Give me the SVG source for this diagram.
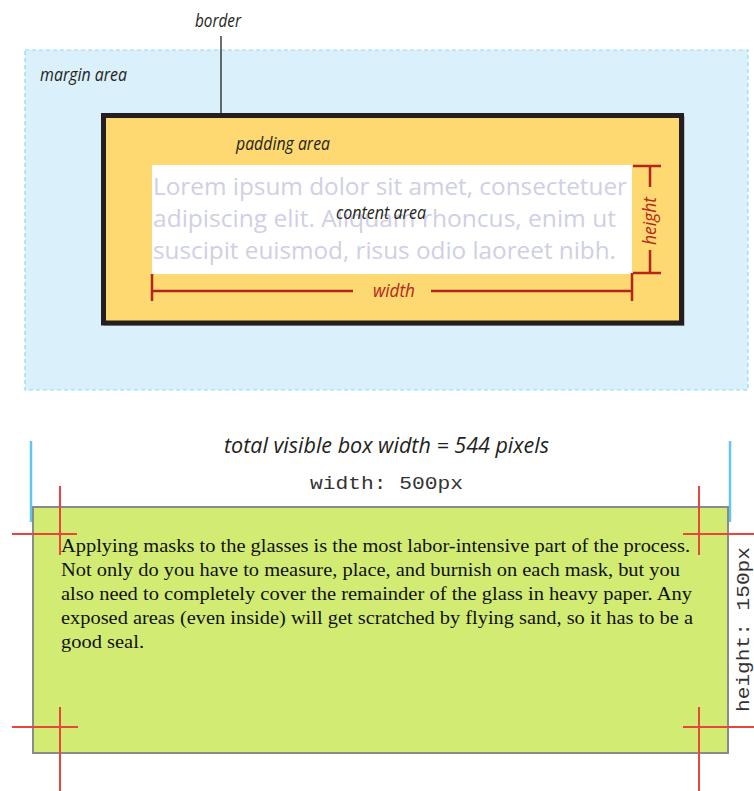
<svg xmlns="http://www.w3.org/2000/svg" width="754" height="791" viewBox="0 0 754 791">
<style>
.lbl{font-family:"Open Sans","Noto Sans",sans-serif;font-style:italic;fill:#231f20}
.red{stroke:#b3261e;stroke-width:2.5;fill:none}
.redt{font-family:"Open Sans","Noto Sans",sans-serif;font-style:italic;fill:#b3261e;font-size:19px}
.lorem{font-family:"Open Sans","Noto Sans",sans-serif;fill:#cfd0e3;font-size:24.5px}
.mono{font-family:"Liberation Mono","DejaVu Sans Mono",monospace;fill:#333;font-size:19px}
.para{font-family:"Liberation Serif","Times New Roman",serif;fill:#111;font-size:18.5px}
.cross{stroke:#e8453c;stroke-width:2;fill:none}
.blue{stroke:#5ec8f3;stroke-width:2.5}
</style>
<g id="margin">
<rect x="25" y="50" width="723" height="340" fill="#daf1fb" stroke="#8fd9f3" stroke-width="1.2" stroke-dasharray="4,3"/>
<text class="lbl" x="40" y="81" font-size="19" textLength="87" lengthAdjust="spacingAndGlyphs">margin area</text>
</g>
<g id="border">
<rect x="104.5" y="116.5" width="580" height="209" fill="none" stroke="#b9bcc0" stroke-width="1"/>
<rect x="103.5" y="115.5" width="578" height="207.5" fill="#fed870" stroke="#231f20" stroke-width="5"/>
<text class="lbl" x="195" y="27" font-size="19" textLength="46" lengthAdjust="spacingAndGlyphs">border</text>
</g>
<g id="padding">
<text class="lbl" x="236" y="150" font-size="19" textLength="94" lengthAdjust="spacingAndGlyphs">padding area</text>
</g>
<g id="content">
<rect x="152" y="165" width="480" height="109" fill="#ffffff"/>
<text class="lorem" x="153" y="195" textLength="474" lengthAdjust="spacingAndGlyphs">Lorem ipsum dolor sit amet, consectetuer</text>
<text class="lorem" x="153" y="227" textLength="463" lengthAdjust="spacingAndGlyphs">adipiscing elit. Aliquam rhoncus, enim ut</text>
<text class="lorem" x="153" y="259" textLength="463" lengthAdjust="spacingAndGlyphs">suscipit euismod, risus odio laoreet nibh.</text>
<text class="lbl" x="336" y="219" font-size="19" textLength="90" lengthAdjust="spacingAndGlyphs">content area</text>
</g>
<g id="connectors">
<line x1="221" y1="36" x2="221" y2="118" stroke="#231f20" stroke-width="1.3"/>
<g id="width-dim">
<path class="red" d="M152 274V301M632 273V301M152 291H353M431 291H632"/>
<text class="redt" x="373" y="297" textLength="42" lengthAdjust="spacingAndGlyphs">width</text>
</g>
<g id="height-dim">
<path class="red" d="M633 166H661M633 273H661M650 166V187M650 250V273"/>
<text class="redt" transform="translate(656,245) rotate(-90)" x="0" y="0" textLength="48" lengthAdjust="spacingAndGlyphs">height</text>
</g>
</g>
<g id="box">
<text class="lbl" x="224" y="453" font-size="21" textLength="325" lengthAdjust="spacingAndGlyphs">total visible box width = 544 pixels</text>
<text class="mono" x="310" y="489" textLength="153" lengthAdjust="spacingAndGlyphs">width: 500px</text>
<line class="blue" x1="31" y1="441" x2="31" y2="522"/>
<line class="blue" x1="730" y1="441" x2="730" y2="522"/>
<rect x="33" y="507" width="695" height="246" fill="#d2ec73" stroke="#8a8a8a" stroke-width="2"/>
<text class="para" x="61" y="552" textLength="629" lengthAdjust="spacingAndGlyphs">Applying masks to the glasses is the most labor-intensive part of the process.</text>
<text class="para" x="61" y="576" textLength="619" lengthAdjust="spacingAndGlyphs">Not only do you have to measure, place, and burnish on each mask, but you</text>
<text class="para" x="61" y="600" textLength="631" lengthAdjust="spacingAndGlyphs">also need to completely cover the remainder of the glass in heavy paper. Any</text>
<text class="para" x="61" y="624" textLength="632" lengthAdjust="spacingAndGlyphs">exposed areas (even inside) will get scratched by flying sand, so it has to be a</text>
<text class="para" x="61" y="648" textLength="83" lengthAdjust="spacingAndGlyphs">good seal.</text>
<text class="mono" transform="translate(749,712) rotate(-90)" x="0" y="0" textLength="165" lengthAdjust="spacingAndGlyphs">height: 150px</text>
<path class="cross" d="M60 486V555M12 534H77M699 486V555M683 534H754M60 707V791M12 727H78M699 707V791M683 727H754"/>
</g>
</svg>
